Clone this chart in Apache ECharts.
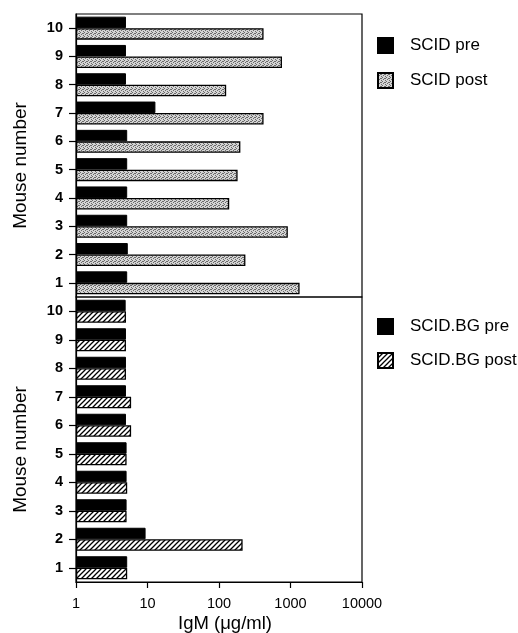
<!DOCTYPE html>
<html><head><meta charset="utf-8">
<script src="https://cdn.jsdelivr.net/npm/echarts@6/dist/echarts.min.js"></script>
<style>html,body{margin:0;padding:0;background:#fff}#c{width:518px;height:633px}</style>
</head><body><div id="c"></div>
<script>
const mice = ['1','2','3','4','5','6','7','8','9','10'];
const scidPre = [5.2, 5.3, 5.2, 5.2, 5.2, 5.2, 12.9, 5.0, 5.0, 5.0];
const scidPost = [1340, 234, 917, 139, 182, 199, 420, 126, 760, 420];
const bgPre = [5.2, 9.4, 5.1, 5.1, 5.1, 5.0, 5.0, 5.0, 5.0, 4.95];
const bgPost = [5.2, 214, 5.1, 5.2, 5.1, 5.9, 5.9, 5.0, 5.0, 5.0];
const xTickLabels = {1:'1', 10:'10', 100:'100', 1000:'1000', 10000:'10000'};

function stipple(){
  const c = document.createElement('canvas'); c.width = 4; c.height = 4;
  const g = c.getContext('2d');
  g.fillStyle = '#d4d4d4'; g.fillRect(0,0,4,4);
  g.fillStyle = '#6a6a6a';
  [[0,0],[2,1],[1,2],[3,3],[3,1]].forEach(p => g.fillRect(p[0],p[1],1,1));
  return c;
}
function hatch(){
  const s = 5;
  const c = document.createElement('canvas'); c.width = s; c.height = s;
  const g = c.getContext('2d');
  g.fillStyle = '#fff'; g.fillRect(0,0,s,s);
  g.strokeStyle = '#000'; g.lineWidth = 1.3;
  g.beginPath();
  g.moveTo(-1, s+1); g.lineTo(s+1, -1);
  g.moveTo(-1, 1); g.lineTo(1, -1);
  g.moveTo(s-1, s+1); g.lineTo(s+1, s-1);
  g.stroke();
  return c;
}
const stipPat = {image: stipple(), repeat: 'repeat'};
const hatchPat = {image: hatch(), repeat: 'repeat'};

const font = 'Liberation Sans';
const chart = echarts.init(document.getElementById('c'));

function yAxis(idx){
  return {
    type: 'category', gridIndex: idx, data: mice,
    axisLine: {show: true, lineStyle: {color: '#000', width: 1.2}},
    axisTick: {show: true, alignWithLabel: true, length: 7, lineStyle: {color: '#000', width: 1.2}},
    axisLabel: {color: '#000', fontFamily: font, fontWeight: 'bold', fontSize: 14.5, margin: 13},
    name: 'Mouse number', nameLocation: 'middle', nameGap: 46,
    nameTextStyle: {color: '#000', fontFamily: font, fontSize: 19, padding: [0, 0, 0, -20]}
  };
}

const barBase = {type: 'bar', barWidth: 11.5, barGap: '0%'};
const legendText = {color: '#000', fontFamily: font, fontSize: 17, padding: [0, 0, 0, 12]};

chart.setOption({
  animation: false,
  backgroundColor: '#fff',
  grid: [
    {left: 76, top: 14, width: 286, height: 283, show: true, borderColor: '#000', borderWidth: 1.2,
     outerBoundsMode: 'none', containLabel: false},
    {left: 76, top: 297, width: 286, height: 285, show: true, borderColor: '#000', borderWidth: 1.2,
     outerBoundsMode: 'none', containLabel: false}
  ],
  xAxis: [
    {type: 'log', gridIndex: 0, min: 1, max: 10000, logBase: 10,
     axisLine: {show: false}, axisTick: {show: false}, axisLabel: {show: false}, splitLine: {show: false}},
    {type: 'log', gridIndex: 1, min: 1, max: 10000, logBase: 10,
     axisLine: {show: true, lineStyle: {color: '#000', width: 1.2}},
     axisTick: {show: true, length: 6, lineStyle: {color: '#000', width: 1.2}},
     axisLabel: {color: '#000', fontFamily: font, fontSize: 14.5, margin: 14,
       formatter: v => xTickLabels[Math.round(v)] || ''},
     splitLine: {show: false},
     name: 'IgM (μg/ml)', nameLocation: 'middle', nameGap: 32,
     nameTextStyle: {color: '#000', fontFamily: font, fontSize: 18.5, padding: [0, 0, 0, 12]}}
  ],
  yAxis: [yAxis(0), yAxis(1)],
  legend: [
    {orient: 'vertical', left: 377, top: 37, padding: 0, itemWidth: 15, itemHeight: 15, itemGap: 18,
     icon: 'rect', data: ['SCID pre', 'SCID post'], textStyle: legendText},
    {orient: 'vertical', left: 377, top: 318, padding: 0, itemWidth: 15, itemHeight: 15, itemGap: 17,
     icon: 'rect', data: ['SCID.BG pre', 'SCID.BG post'], textStyle: legendText}
  ],
  series: [
    Object.assign({}, barBase, {name: 'SCID pre', xAxisIndex: 0, yAxisIndex: 0, data: scidPre,
      itemStyle: {color: '#000', borderColor: '#000', borderWidth: 1}}),
    Object.assign({}, barBase, {name: 'SCID post', xAxisIndex: 0, yAxisIndex: 0, data: scidPost,
      itemStyle: {color: stipPat, borderColor: '#000', borderWidth: 1.3}}),
    Object.assign({}, barBase, {name: 'SCID.BG pre', xAxisIndex: 1, yAxisIndex: 1, data: bgPre,
      itemStyle: {color: '#000', borderColor: '#000', borderWidth: 1}}),
    Object.assign({}, barBase, {name: 'SCID.BG post', xAxisIndex: 1, yAxisIndex: 1, data: bgPost,
      itemStyle: {color: hatchPat, borderColor: '#000', borderWidth: 1.3}})
  ]
});
</script></body></html>
